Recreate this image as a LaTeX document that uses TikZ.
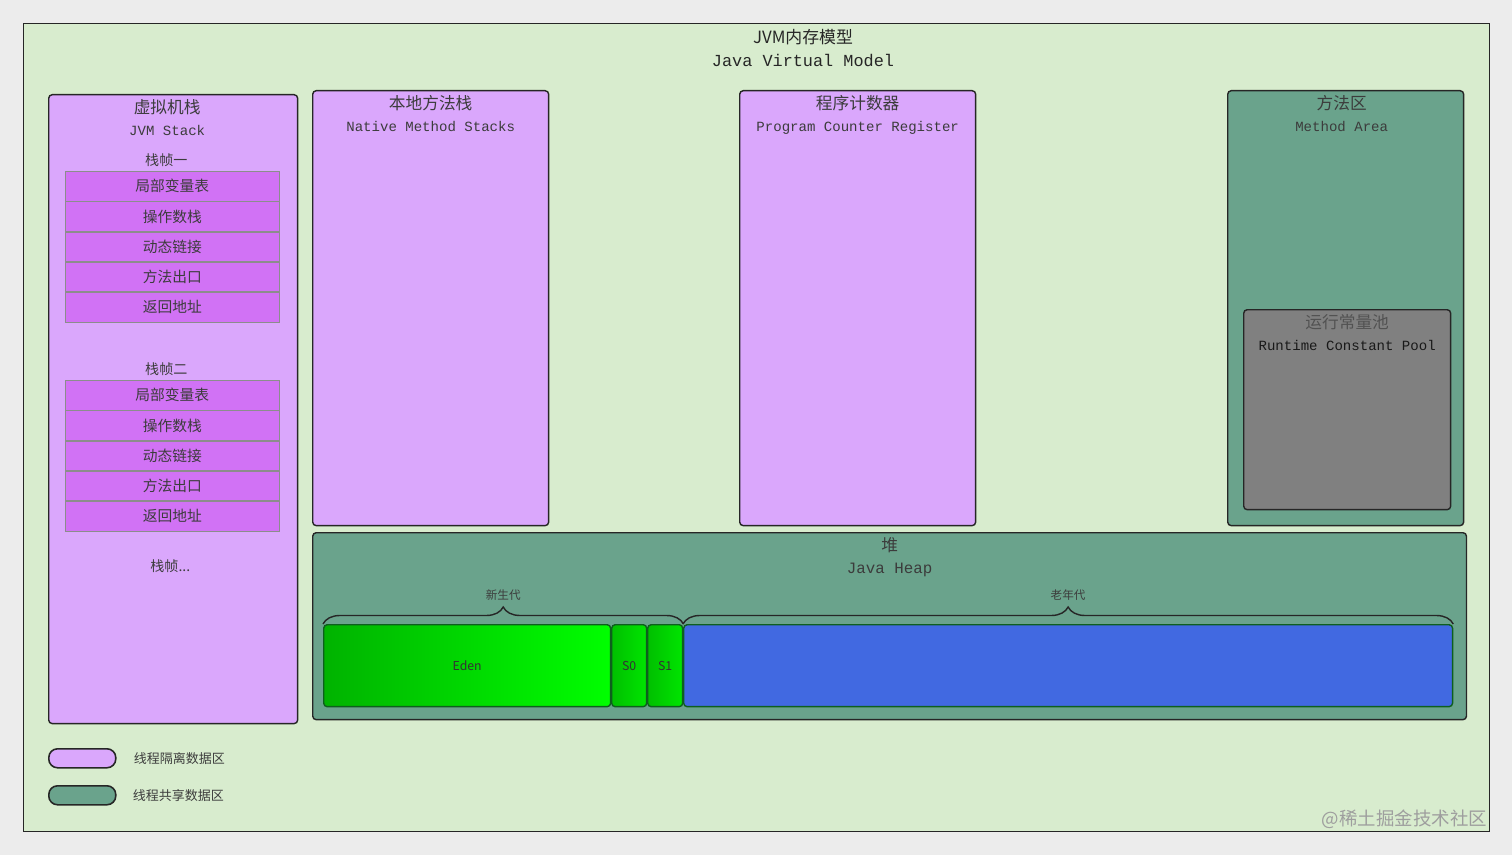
\documentclass[tikz,border=0pt]{standalone}
\usepackage{fontspec}
\setmainfont{Noto Sans CJK SC}
\setmonofont{Liberation Mono}
\usetikzlibrary{positioning,decorations.pathreplacing,shadings}

\definecolor{pagegray}{HTML}{ECECEC}
\definecolor{framegreen}{HTML}{D8ECCE}
\definecolor{privviolet}{HTML}{DAA7FC}
\definecolor{sharedgreen}{HTML}{6AA38C}
\definecolor{rowviolet}{HTML}{D172F5}
\definecolor{poolgray}{HTML}{808080}
\definecolor{oldblue}{HTML}{4169E1}
\definecolor{edgegreen}{HTML}{0E5F1E}
\definecolor{txtgray}{HTML}{3C3C3C}

\begin{document}
\begin{tikzpicture}[x=0.02cm, y=-0.02cm, node distance=0pt]
    \tikzstyle{area} = [rectangle, draw=black!85, line width=0.8pt, rounded corners=2pt, anchor=north west, inner sep=0pt]
    \tikzstyle{private} = [area, fill=privviolet, minimum width=4.72cm, minimum height=8.70cm]
    \tikzstyle{shared} = [area, fill=sharedgreen]
    \tikzstyle{title} = [align=center, text=txtgray, inner sep=1pt, font=\fontsize{9.5}{12.5}\selectfont]
    \tikzstyle{row} = [rectangle, draw=black!45, fill=rowviolet, minimum width=4.28cm, minimum height=0.592cm, inner sep=0pt, text=txtgray, font=\fontsize{8.4}{10}\selectfont]
    \tikzstyle{gen} = [rectangle, draw=edgegreen, line width=0.8pt, rounded corners=2pt, anchor=north west, minimum height=1.64cm, inner sep=0pt, text=black!80, font=\fontsize{7}{8}\selectfont]
    \tikzstyle{brace} = [draw=black!85, line width=0.8pt, decorate, decoration={brace, amplitude=0.34cm}]
    \tikzstyle{small} = [text=txtgray, inner sep=1pt, font=\fontsize{6.6}{8}\selectfont]
    \tikzstyle{pill} = [rectangle, draw=black!85, line width=0.9pt, rounded corners=5pt, anchor=north west, minimum width=1.34cm, minimum height=0.38cm]
    \tikzstyle{legend} = [text=txtgray, inner sep=0pt, font=\fontsize{7.4}{9}\selectfont]

    % page and outer frame
    \fill[pagegray] (0,0) rectangle (1512,855);
    \useasboundingbox (0,0) rectangle (1512,855);
    \node [area, fill=framegreen, rounded corners=0pt, minimum width=29.32cm, minimum height=16.16cm] (jvm) at (23,23) {};
    \node [title, font=\fontsize{9.6}{13.5}\selectfont, text=black!85] (jvmtitle) at (803,48) {JVM内存模型\\{\ttfamily Java Virtual Model}};

    % thread private areas
    \node [private, minimum width=4.98cm, minimum height=12.58cm] (stack) at (48,94) {};
    \node [title, below=2pt of stack.north, xshift=-0.12cm] (stacktitle) {虚拟机栈\\{\ttfamily\fontsize{8}{12.5}\selectfont JVM Stack}};
    \node [private] (native) at (312,90) {};
    \node [title, below=2pt of native.north] (nativetitle) {本地方法栈\\{\ttfamily\fontsize{8}{12.5}\selectfont Native Method Stacks}};
    \node [private] (pc) at (739,90) {};
    \node [title, below=2pt of pc.north] (pctitle) {程序计数器\\{\ttfamily\fontsize{8}{12.5}\selectfont Program Counter Register}};

    % stack frames
    \node [row, anchor=north west] (f1vars) at (65,171) {局部变量表};
    \node [row, below=of f1vars] (f1ops) {操作数栈};
    \node [row, below=of f1ops] (f1link) {动态链接};
    \node [row, below=of f1link] (f1exit) {方法出口};
    \node [row, below=of f1exit] (f1ret) {返回地址};
    \node [small, font=\fontsize{8}{10}\selectfont, above=1pt of f1vars, xshift=-0.12cm] (frame1) {栈帧一};
    \node [row, anchor=north west] (f2vars) at (65,380) {局部变量表};
    \node [row, below=of f2vars] (f2ops) {操作数栈};
    \node [row, below=of f2ops] (f2link) {动态链接};
    \node [row, below=of f2link] (f2exit) {方法出口};
    \node [row, below=of f2exit] (f2ret) {返回地址};
    \node [small, font=\fontsize{8}{10}\selectfont, above=1pt of f2vars, xshift=-0.12cm] (frame2) {栈帧二};
    \node [small, font=\fontsize{8}{10}\selectfont, below=0.52cm of f2ret, xshift=-0.04cm] (framemore) {栈帧...};

    % thread shared areas
    \node [shared, minimum width=4.72cm, minimum height=8.70cm] (method) at (1227,90) {};
    \node [title, below=2pt of method.north, xshift=-0.08cm] (methodtitle) {方法区\\{\ttfamily\fontsize{8}{12.5}\selectfont Method Area}};
    \node [area, fill=poolgray, minimum width=4.14cm, minimum height=4.00cm] (pool) at (1243,309) {};
    \node [title, text=black!68, below=2pt of pool.north] (pooltitle) {运行常量池\\{\ttfamily\fontsize{8}{12.5}\selectfont\color{black!90} Runtime Constant Pool}};

    \node [shared, minimum width=23.08cm, minimum height=3.74cm] (heap) at (312,532) {};
    \node [title, below=2pt of heap.north] (heaptitle) {堆\\{\ttfamily\fontsize{9}{12.5}\selectfont Java Heap}};
    \node [gen, minimum width=5.74cm, left color=green!70!black, right color=green] (eden) at (323,624) {Eden};
    \node [gen, minimum width=0.70cm, left color=green!75!black, right color=green!90!black] (s0) at (611,624) {S0};
    \node [gen, minimum width=0.70cm, left color=green!75!black, right color=green!90!black] (s1) at (647,624) {S1};
    \node [gen, minimum width=15.38cm, fill=oldblue] (old) at (683,624) {};

    \draw [brace] (eden.north west) -- node [small, above=0.42cm] (younglabel) {新生代} (s1.north east);
    \draw [brace] (old.north west) -- node [small, above=0.42cm] (oldlabel) {老年代} (old.north east);

    % legend
    \node [pill, fill=privviolet] (privkey) at (48,748) {};
    \node [legend, right=0.34cm of privkey] (privtext) {线程隔离数据区};
    \node [pill, fill=sharedgreen] (sharedkey) at (48,785) {};
    \node [legend, right=0.32cm of sharedkey] (sharedtext) {线程共享数据区};

    \node [anchor=south east, inner sep=1pt, text=black!38, font=\fontsize{10.5}{12}\selectfont] (mark) at (1489,831) {@稀土掘金技术社区};
\end{tikzpicture}
\end{document}
